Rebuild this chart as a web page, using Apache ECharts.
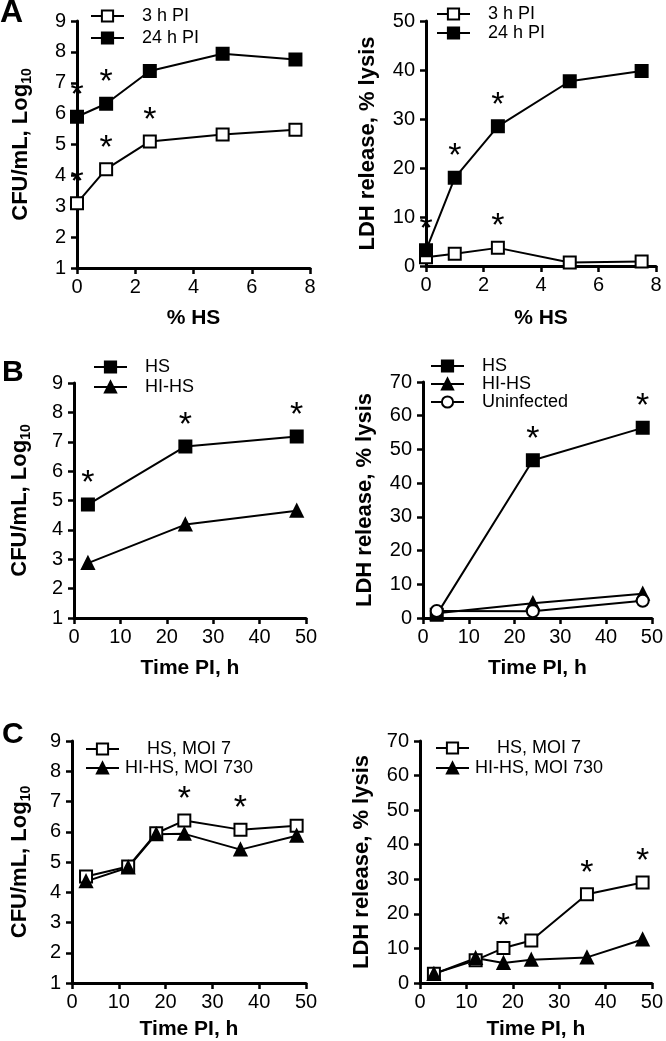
<!DOCTYPE html>
<html>
<head>
<meta charset="utf-8">
<script src="https://cdn.jsdelivr.net/npm/echarts/dist/echarts.min.js"></script>
<style>
  html, body { margin: 0; padding: 0; background: #fff; }
  #chart { width: 666px; height: 1041px; }
</style>
</head>
<body>
<div id="chart"></div>
<script>
// panel A: % HS
const hsPct = [0, 1, 2.5, 5, 7.5];
const cfuA3h = [3.1, 4.2, 5.1, 5.32, 5.48];
const cfuA24h = [5.9, 6.32, 7.38, 7.94, 7.75];
const sigCfuA3h = [1, 1, 1, 0, 0];
const sigCfuA24h = [1, 1, 0, 0, 0];
const ldhA3h = [1.8, 2.5, 3.7, 0.7, 0.9];
const ldhA24h = [3.2, 18, 28.5, 37.7, 39.8];
const sigLdhA3h = [0, 0, 1, 0, 0];
const sigLdhA24h = [1, 1, 1, 0, 0];

// panel B: time PI
const timeB = [3, 24, 48];
const cfuBHS = [4.86, 6.84, 7.18];
const cfuBHIHS = [2.87, 4.18, 4.65];
const sigCfuBHS = [1, 1, 1];
const ldhBHS = [1.0, 46.8, 56.4];
const ldhBHIHS = [1.4, 4.4, 7.2];
const ldhBUninf = [2.1, 2.0, 5.1];
const sigLdhBHS = [0, 1, 1];

// panel C: time PI, MOI
const timeC = [3, 12, 18, 24, 36, 48];
const cfuCHS = [4.52, 4.85, 5.95, 6.37, 6.07, 6.2];
const cfuCHIHS = [4.36, 4.82, 5.92, 5.93, 5.41, 5.87];
const sigCfuCHS = [0, 0, 0, 1, 1, 0];
const ldhCHS = [2.7, 6.6, 10.1, 12.3, 25.7, 29.1];
const ldhCHIHS = [2.6, 7.2, 5.8, 6.7, 7.4, 12.6];
const sigLdhCHS = [0, 0, 1, 0, 1, 1];

const font = "'Liberation Sans', Arial, sans-serif";

const chart = echarts.init(document.getElementById("chart"));

function xAxis(gi, max, interval, name, gap) {
    return {
        type: "value", gridIndex: gi, min: 0, max: max, interval: interval,
        name: name, nameLocation: "middle", nameGap: gap,
        nameTextStyle: { fontSize: 21, fontWeight: "bold", color: "#000" },
        axisLine: { lineStyle: { color: "#000", width: 3 } },
        axisTick: { length: 6, lineStyle: { color: "#000", width: 2.5 } },
        axisLabel: { fontSize: 20, color: "#000", margin: 9 },
        splitLine: { show: false }
    };
}

function yAxis(gi, min, max, interval, name, gap) {
    return {
        type: "value", gridIndex: gi, min: min, max: max, interval: interval,
        name: name, nameLocation: "middle", nameGap: gap, nameRotate: 90,
        nameTextStyle: {
            fontSize: 22, fontWeight: "bold", color: "#000",
            rich: {
                a: { fontSize: 22, fontWeight: "bold", color: "#000", lineHeight: 26 },
                b: { fontSize: 14, fontWeight: "bold", color: "#000", verticalAlign: "bottom" }
            }
        },
        axisLine: { lineStyle: { color: "#000", width: 3 } },
        axisTick: { length: 6, lineStyle: { color: "#000", width: 2.5 } },
        axisLabel: { fontSize: 20, color: "#000", margin: 11 },
        splitLine: { show: false }
    };
}

function line(name, gi, xs, ys, sig, symbol) {
    return {
        type: "line", name: name, xAxisIndex: gi, yAxisIndex: gi,
        data: xs.map((x, i) => ({ value: [x, ys[i]], label: { show: !!(sig && sig[i]) } })),
        symbol: symbol, symbolSize: 12, showAllSymbol: true,
        lineStyle: { color: "#000", width: 2 },
        itemStyle: { color: "#000", borderColor: "#000", borderWidth: 2 },
        label: { formatter: "*", position: "top", distance: -3, fontSize: 34, color: "#000" },
        emphasis: { disabled: true },
        animation: false
    };
}

function legend(names, left, top, gap, centered) {
    return {
        data: names, orient: "vertical", left: left, top: top, itemGap: gap,
        itemWidth: 33, itemHeight: 14, selectedMode: false, padding: 0,
        formatter: centered ? "{c|{name}}" : "{t|{name}}",
        textStyle: {
            fontSize: 18, color: "#000",
            rich: {
                t: { fontSize: 18, color: "#000", padding: [0, 0, 0, 13] },
                c: { fontSize: 18, color: "#000", width: 126, align: "center", padding: [0, 0, 0, 2] }
            }
        }
    };
}

const cfuName = "{a|CFU/mL, Log}{b|10}";
const ldhName = "{a|LDH release, % lysis}";

chart.setOption({
    textStyle: { fontFamily: font },
    animation: false,
    title: [
        { text: "A", left: 0, top: -3, padding: 0, textStyle: { fontSize: 32, fontWeight: "bold", color: "#000" } },
        { text: "B", left: 2, top: 358, padding: 0, textStyle: { fontSize: 30, fontWeight: "bold", color: "#000" } },
        { text: "C", left: 2, top: 720, padding: 0, textStyle: { fontSize: 30, fontWeight: "bold", color: "#000" } }
    ],
    grid: [
        { left: 77, top: 21, width: 233, height: 247 },
        { left: 426, top: 21, width: 230, height: 245 },
        { left: 74, top: 383, width: 232, height: 235 },
        { left: 423, top: 382, width: 232, height: 236 },
        { left: 72, top: 741, width: 234, height: 243 },
        { left: 420, top: 741, width: 235, height: 242 }
    ],
    xAxis: [
        xAxis(0, 8, 2, "% HS", 40),
        xAxis(1, 8, 2, "% HS", 42),
        xAxis(2, 50, 10, "Time PI, h", 40),
        xAxis(3, 50, 10, "Time PI, h", 40),
        xAxis(4, 50, 10, "Time PI, h", 36),
        xAxis(5, 50, 10, "Time PI, h", 36)
    ],
    yAxis: [
        yAxis(0, 1, 9, 1, cfuName, 43),
        yAxis(1, 0, 50, 10, ldhName, 45),
        yAxis(2, 1, 9, 1, cfuName, 41),
        yAxis(3, 0, 70, 10, ldhName, 45),
        yAxis(4, 1, 9, 1, cfuName, 39),
        yAxis(5, 0, 70, 10, ldhName, 45)
    ],
    legend: [
        legend(["3 h PI", "24 h PI"], 90, 7, 4),
        legend(["3 h PI", "24 h PI"], 436, 5, 1),
        legend(["HS", "HI-HS"], 93, 358, 2),
        legend(["HS", "HI-HS", "Uninfected"], 430, 357, 0),
        legend(["HS, MOI 7", "HI-HS, MOI 730"], 85, 740, 1, true),
        legend(["HS, MOI 7", "HI-HS, MOI 730"], 435, 739, 2, true)
    ],
    series: [
        line("3 h PI", 0, hsPct, cfuA3h, sigCfuA3h, "emptyRect"),
        line("24 h PI", 0, hsPct, cfuA24h, sigCfuA24h, "rect"),
        line("3 h PI", 1, hsPct, ldhA3h, sigLdhA3h, "emptyRect"),
        line("24 h PI", 1, hsPct, ldhA24h, sigLdhA24h, "rect"),
        line("HS", 2, timeB, cfuBHS, sigCfuBHS, "rect"),
        line("HI-HS", 2, timeB, cfuBHIHS, null, "triangle"),
        line("HS", 3, timeB, ldhBHS, sigLdhBHS, "rect"),
        line("HI-HS", 3, timeB, ldhBHIHS, null, "triangle"),
        line("Uninfected", 3, timeB, ldhBUninf, null, "emptyCircle"),
        line("HS, MOI 7", 4, timeC, cfuCHS, sigCfuCHS, "emptyRect"),
        line("HI-HS, MOI 730", 4, timeC, cfuCHIHS, null, "triangle"),
        line("HS, MOI 7", 5, timeC, ldhCHS, sigLdhCHS, "emptyRect"),
        line("HI-HS, MOI 730", 5, timeC, ldhCHIHS, null, "triangle")
    ]
});
</script>
</body>
</html>
